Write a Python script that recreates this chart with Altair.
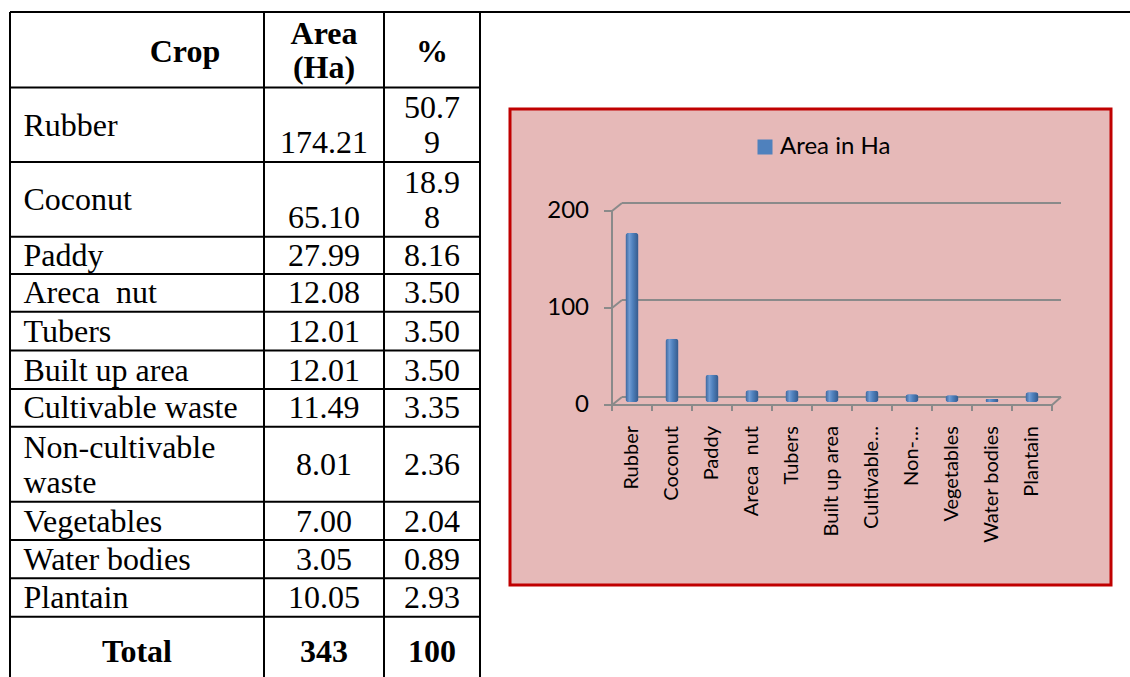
import altair as alt
import pandas as pd

# ---------------- data ----------------
crops = ["Rubber", "Coconut", "Paddy", "Areca  nut", "Tubers", "Built up area",
         "Cultivable waste", "Non-cultivable waste", "Vegetables", "Water bodies", "Plantain"]
area_ha = [174.21, 65.10, 27.99, 12.08, 12.01, 12.01, 11.49, 8.01, 7.00, 3.05, 10.05]
pct = ["50.79", "18.98", "8.16", "3.50", "3.50", "3.50", "3.35", "2.36", "2.04", "0.89", "2.93"]
total_label = "Total"
total_area = "343"
total_pct = "100"
header_crop = "Crop"
header_area = ["Area", "(Ha)"]
header_pct = "%"
chart_labels = ["Rubber", "Coconut", "Paddy", "Areca  nut", "Tubers", "Built up area",
                "Cultivable…", "Non-…", "Vegetables", "Water bodies", "Plantain"]
y_ticks = [0, 100, 200]
series_name = "Area in Ha"


def keep_spaces(s):
    return s.replace("  ", " \u00a0")


# ---------------- layout (pixels) ----------------
W, H = 1130, 677
col_x = [10, 264, 384, 480]
row_y = [12, 87.5, 162, 236.7, 274, 311.8, 350.5, 389, 426.7, 501.7, 540, 578.3, 616.7, 693]
name_x = 23.5
area_cx = (col_x[1] + col_x[2]) / 2
pct_cx = (col_x[2] + col_x[3]) / 2
serif = "Liberation Serif"
fs = 32
sans = "Lato"

# ---------- table lines ----------
lines = [dict(x=col_x[0], x2=W, y=row_y[0], y2=row_y[0])]
for yy in row_y[1:-1]:
    lines.append(dict(x=col_x[0], x2=col_x[3], y=yy, y2=yy))
for xx in col_x:
    lines.append(dict(x=xx, x2=xx, y=row_y[0], y2=H))
lines_df = pd.DataFrame(lines)
table_lines = alt.Chart(lines_df).mark_rule(color="black", strokeWidth=2).encode(
    x=alt.X("x:Q", scale=None), x2="x2:Q", y=alt.Y("y:Q", scale=None), y2="y2:Q")

# ---------- table text ----------
left_txt, center_txt, bold_txt = [], [], []
bold_txt.append(dict(x=185, y=62, t=header_crop))
bold_txt.append(dict(x=area_cx, y=44, t=header_area[0]))
bold_txt.append(dict(x=area_cx, y=78, t=header_area[1]))
bold_txt.append(dict(x=pct_cx, y=62, t=header_pct))
for i, (c, a, p) in enumerate(zip(crops, area_ha, pct)):
    top, bot = row_y[i + 1], row_y[i + 2]
    astr = f"{a:.2f}"
    if bot - top > 60:
        if c.startswith("Non-"):
            w1, w2 = c.split(" ", 1)
            left_txt.append(dict(x=name_x, y=bot - 43.7, t=w1))
            left_txt.append(dict(x=name_x, y=bot - 8.7, t=w2))
            center_txt.append(dict(x=area_cx, y=bot - 26.5, t=astr))
            center_txt.append(dict(x=pct_cx, y=bot - 26.5, t=p))
        else:
            left_txt.append(dict(x=name_x, y=bot - 26.5, t=c))
            center_txt.append(dict(x=area_cx, y=bot - 9, t=astr))
            center_txt.append(dict(x=pct_cx, y=bot - 44, t=p[:4]))
            center_txt.append(dict(x=pct_cx, y=bot - 9, t=p[4:]))
    else:
        left_txt.append(dict(x=name_x, y=bot - 8.5, t=keep_spaces(c)))
        center_txt.append(dict(x=area_cx, y=bot - 8.5, t=astr))
        center_txt.append(dict(x=pct_cx, y=bot - 8.5, t=p))
bold_txt.append(dict(x=(col_x[0] + col_x[1]) / 2, y=662, t=total_label))
bold_txt.append(dict(x=area_cx, y=662, t=total_area))
bold_txt.append(dict(x=pct_cx, y=662, t=total_pct))


def txt_layer(rows, align, weight):
    return alt.Chart(pd.DataFrame(rows)).mark_text(
        align=align, baseline="alphabetic", font=serif, fontSize=fs,
        fontWeight=weight, color="black").encode(
        x=alt.X("x:Q", scale=None), y=alt.Y("y:Q", scale=None), text="t:N")


t_left = txt_layer(left_txt, "left", "normal")
t_center = txt_layer(center_txt, "center", "normal")
t_bold = txt_layer(bold_txt, "center", "bold")

# ---------- chart ----------
one = pd.DataFrame({"a": [0]})
box = alt.Chart(one).mark_rect(fill="#E6B9B8", stroke="#C00000", strokeWidth=3).encode(
    x=alt.value(510), x2=alt.value(1111), y=alt.value(109), y2=alt.value(585))

ax_x0, ax_x1 = 612, 1052
depth_px = 9
yscale = alt.Scale(domain=[0, 200], range=[405, 211])          # front plane
bar_yscale = alt.Scale(domain=[0, 200], range=[402, 208])      # mid-depth plane
d = 8 * 200 / 194  # depth in data units (8 px)

seg = [dict(x=ax_x0, x2=ax_x0, v=0, v2=200),
       dict(x=ax_x0, x2=ax_x1, v=0, v2=0),
       dict(x=ax_x1, x2=ax_x1 + depth_px, v=0, v2=d)]
for t in y_ticks:
    seg.append(dict(x=604, x2=ax_x0, v=t, v2=t))
    seg.append(dict(x=ax_x0, x2=ax_x0 + 10, v=t, v2=t + d))
    seg.append(dict(x=ax_x0 + 10, x2=ax_x1 + depth_px, v=t + d, v2=t + d))
frame = alt.Chart(pd.DataFrame(seg)).mark_rule(color="#8A8A8A", strokeWidth=2).encode(
    x=alt.X("x:Q", scale=None), x2="x2:Q",
    y=alt.Y("v:Q", scale=yscale, axis=None), y2="v2:Q")

cat_ticks = alt.Chart(pd.DataFrame({"i": list(range(len(chart_labels) + 1))})).mark_rule(
    color="#8A8A8A", strokeWidth=2).encode(
    x=alt.X("i:Q", scale=alt.Scale(domain=[0, len(chart_labels)], range=[ax_x0, ax_x1]), axis=None),
    y=alt.value(405), y2=alt.value(411))

bars_df = pd.DataFrame({"label": chart_labels, "area": area_ha, "series": series_name,
                        "shown": [keep_spaces(s) for s in chart_labels]})
xband = alt.Scale(domain=chart_labels, range=[ax_x0, ax_x1], paddingInner=0, paddingOuter=0)

bars = alt.Chart(bars_df).mark_bar(width=13, cornerRadius=3).encode(
    x=alt.X("label:N", scale=xband, axis=None, sort=chart_labels),
    y=alt.Y("area:Q", scale=bar_yscale, axis=None),
    color=alt.Color("series:N", scale=alt.Scale(range=["#4F81BD"]),
                    legend=alt.Legend(title=None, orient="none", legendX=753, legendY=135,
                                      symbolType="square", symbolSize=225, symbolStrokeWidth=0,
                                      labelFont=sans, labelFontSize=24, labelColor="black",
                                      labelOffset=3, padding=0)))

grad = alt.Gradient(gradient="linear", x1=0, x2=1, y1=0, y2=0, stops=[
    alt.GradientStop(offset=0, color="#3A6399"),
    alt.GradientStop(offset=0.3, color="#6F9BD3"),
    alt.GradientStop(offset=0.55, color="#4F81BD"),
    alt.GradientStop(offset=1, color="#34598A")])
bars_shade = alt.Chart(bars_df).mark_bar(width=13, cornerRadius=3, color=grad).encode(
    x=alt.X("label:N", scale=xband, axis=None, sort=chart_labels),
    y=alt.Y("area:Q", scale=bar_yscale, axis=None))

cat_labels = alt.Chart(bars_df).mark_text(angle=270, align="right", baseline="middle",
                                          font=sans, fontSize=20, color="black").encode(
    x=alt.X("label:N", scale=xband, axis=None, sort=chart_labels),
    y=alt.value(426), text="shown:N")

ytl = alt.Chart(pd.DataFrame({"v": y_ticks})).mark_text(align="right", baseline="middle",
                                                        font=sans, fontSize=24, color="black").encode(
    y=alt.Y("v:Q", scale=yscale, axis=None), x=alt.value(589), text="v:Q")

chart = alt.layer(table_lines, t_left, t_center, t_bold, box, frame, cat_ticks,
                  bars, bars_shade, cat_labels, ytl).resolve_scale(
    x="independent", y="independent", color="independent").properties(
    width=W, height=H, padding=0, autosize="none", background="white"
).configure_view(stroke=None)

chart.save("out.html", embed_options={"renderer": "svg", "actions": False})
